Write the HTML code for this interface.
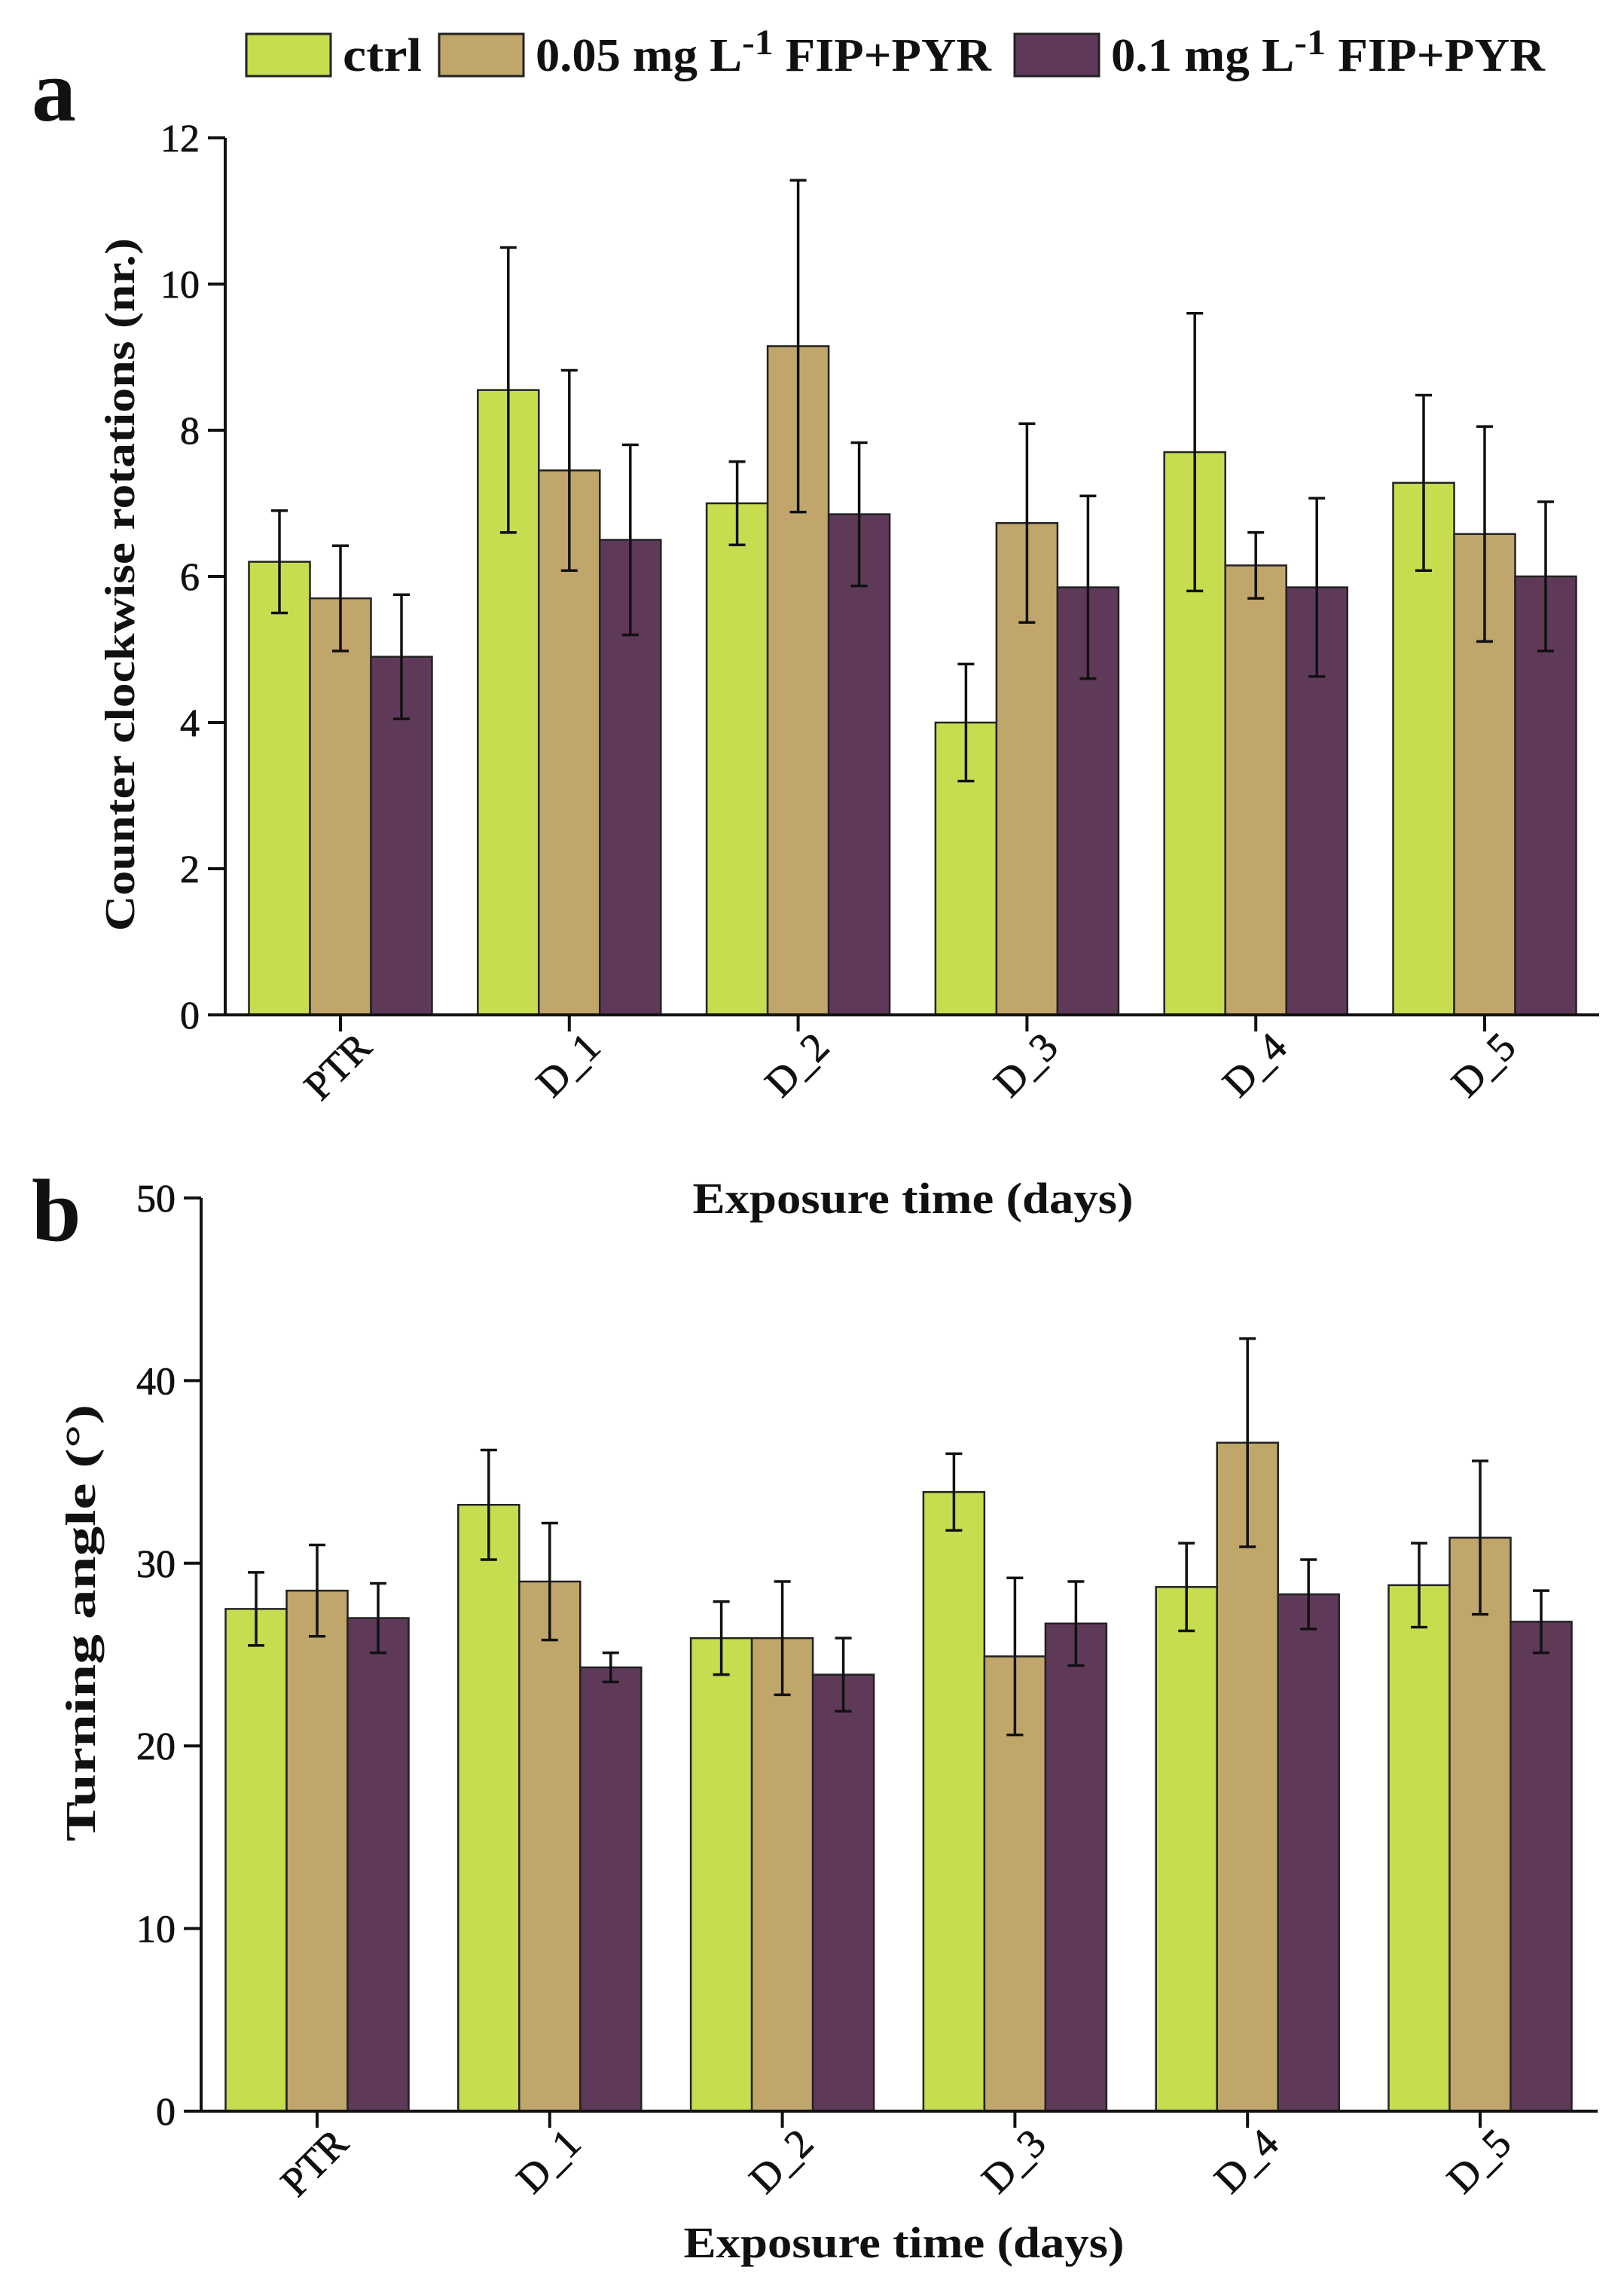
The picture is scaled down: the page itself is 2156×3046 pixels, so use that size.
<!DOCTYPE html>
<html><head><meta charset="utf-8"><style>
html,body{margin:0;padding:0;background:#fff}
svg{display:block}
text{font-family:"Liberation Serif",serif;fill:#111}
</style></head><body>
<svg id="fig" width="2156" height="3046" viewBox="0 0 2156 3046" xmlns="http://www.w3.org/2000/svg">
<g>
<rect x="327" y="45" width="112" height="56" fill="#c8dc50" stroke="#222" stroke-width="3"/>
<text x="455" y="94" font-size="62" font-weight="bold" textLength="105" lengthAdjust="spacingAndGlyphs">ctrl</text>
<rect x="583" y="45" width="112" height="56" fill="#c0a66a" stroke="#222" stroke-width="3"/>
<text x="711" y="94" font-size="62" font-weight="bold" textLength="605" lengthAdjust="spacingAndGlyphs">0.05 mg L<tspan dy="-22" font-size="48">-1</tspan><tspan dy="22"> FIP+PYR</tspan></text>
<rect x="1347" y="45" width="112" height="56" fill="#5e3a58" stroke="#222" stroke-width="3"/>
<text x="1475" y="94" font-size="62" font-weight="bold" textLength="576" lengthAdjust="spacingAndGlyphs">0.1 mg L<tspan dy="-22" font-size="48">-1</tspan><tspan dy="22"> FIP+PYR</tspan></text>
</g>
<text x="42" y="160" font-size="118" font-weight="bold">a</text>
<text x="42" y="1646" font-size="118" font-weight="bold">b</text>
<g id="chartA"></g>
<g id="chartB"></g>
</svg>
<script>
const categories = ["PTR","D_1","D_2","D_3","D_4","D_5"];
const seriesNames = ["ctrl","0.05 mg/L FIP+PYR","0.1 mg/L FIP+PYR"];
const colors = ["#c8dc50","#c0a66a","#5e3a58"];
const aCtrl = [6.2, 8.55, 7.0, 4.0, 7.7, 7.28];
const aLow = [5.7, 7.45, 9.15, 6.73, 6.15, 6.58];
const aHigh = [4.9, 6.5, 6.85, 5.85, 5.85, 6.0];
const aCtrlErr = [0.7, 1.95, 0.57, 0.8, 1.9, 1.2];
const aLowErr = [0.72, 1.37, 2.27, 1.36, 0.45, 1.47];
const aHighErr = [0.85, 1.3, 0.98, 1.25, 1.22, 1.02];
const aTicks = [0,2,4,6,8,10,12];
const bCtrl = [27.5, 33.2, 25.9, 33.9, 28.7, 28.8];
const bLow = [28.5, 29.0, 25.9, 24.9, 36.6, 31.4];
const bHigh = [27.0, 24.3, 23.9, 26.7, 28.3, 26.8];
const bCtrlErr = [2.0, 3.0, 2.0, 2.1, 2.4, 2.3];
const bLowErr = [2.5, 3.2, 3.1, 4.3, 5.7, 4.2];
const bHighErr = [1.9, 0.8, 2.0, 2.3, 1.9, 1.7];
const bTicks = [0,10,20,30,40,50];

const NS = "http://www.w3.org/2000/svg";
function mk(parent, tag, attrs, txt){
  const e = document.createElementNS(NS, tag);
  for (const k in attrs) e.setAttribute(k, attrs[k]);
  if (txt !== undefined) e.textContent = txt;
  parent.appendChild(e);
  return e;
}
function draw(g, cfg){
  const y = v => cfg.y0 - (v - 0) * (cfg.y0 - cfg.yTop) / cfg.yMax;
  const x = i => cfg.x0 + i * cfg.step;
  const bw = cfg.bw;
  const ya = mk(g,'line',{x1:cfg.axX,y1:y(cfg.yMax),x2:cfg.axX,y2:cfg.y0,stroke:'#111','stroke-width':4});
   
  const series = cfg.series, errs = cfg.errs;
  categories.forEach((c,i)=>{
    series.forEach((s,j)=>{
      const left = x(i) - 1.5*bw + j*bw;
      const r = mk(g,'rect',{x:left,y:y(s[i]),width:bw,height:cfg.y0-y(s[i]),fill:colors[j],stroke:'#222','stroke-width':2.5});
      
      
      const cx = left + bw/2, top = y(s[i]+errs[j][i]), bot = y(s[i]-errs[j][i]);
      const eg = mk(g,'path',{d:`M${cx},${top}V${bot}M${cx-11},${top}H${cx+11}M${cx-11},${bot}H${cx+11}`,stroke:'#111','stroke-width':3.5,fill:'none'});
      
      
    });
    mk(g,'line',{x1:x(i),y1:cfg.y0,x2:x(i),y2:cfg.y0+22,stroke:'#111','stroke-width':4});
    const tx = x(i)+44, ty = cfg.y0+46;
    const tl = mk(g,'text',{x:tx,y:ty,'font-size':54,'text-anchor':'end',stroke:'#111','stroke-width':0.8,transform:`rotate(-45 ${tx} ${ty})`},c);
    
    
  });
  const xa = mk(g,'line',{x1:cfg.axX-23,y1:cfg.y0,x2:cfg.axEnd,y2:cfg.y0,stroke:'#111','stroke-width':4});
   
  cfg.ticks.forEach(t=>{
    mk(g,'line',{x1:cfg.axX-23,y1:y(t),x2:cfg.axX,y2:y(t),stroke:'#111','stroke-width':4});
    const yl = mk(g,'text',{x:cfg.axX-34,y:y(t)+18,'font-size':52,'text-anchor':'end',stroke:'#111','stroke-width':0.8},t);
    
    
  });
  const yt = mk(g,'text',{x:cfg.ytX,y:cfg.ytY,'font-size':56,'font-weight':'bold','text-anchor':'middle',transform:`rotate(-90 ${cfg.ytX} ${cfg.ytY})`,textLength:cfg.ytLen,lengthAdjust:'spacingAndGlyphs'},cfg.yTitle);
   
  const xt = mk(g,'text',{x:cfg.xtX,y:cfg.xtY,'font-size':58,'font-weight':'bold','text-anchor':'middle',textLength:585,lengthAdjust:'spacingAndGlyphs'},'Exposure time (days)');
   
}
draw(document.getElementById('chartA'),{
  y0:1347, yTop:183, yMax:12, axX:299, axEnd:2123, x0:452, step:303.8, bw:81,
  series:[aCtrl,aLow,aHigh], errs:[aCtrlErr,aLowErr,aHighErr], ticks:aTicks,
  yTitle:'Counter clockwise rotations (nr.)', ytX:178, ytY:776, ytLen:920, xtX:1212, xtY:1610
});
draw(document.getElementById('chartB'),{
  y0:2802, yTop:1590, yMax:50, axX:267, axEnd:2121, x0:421, step:308.8, bw:81,
  series:[bCtrl,bLow,bHigh], errs:[bCtrlErr,bLowErr,bHighErr], ticks:bTicks,
  yTitle:'Turning angle (°)', ytX:126, ytY:2154, ytLen:580, xtX:1200, xtY:2996
});
</script>
</body></html>
